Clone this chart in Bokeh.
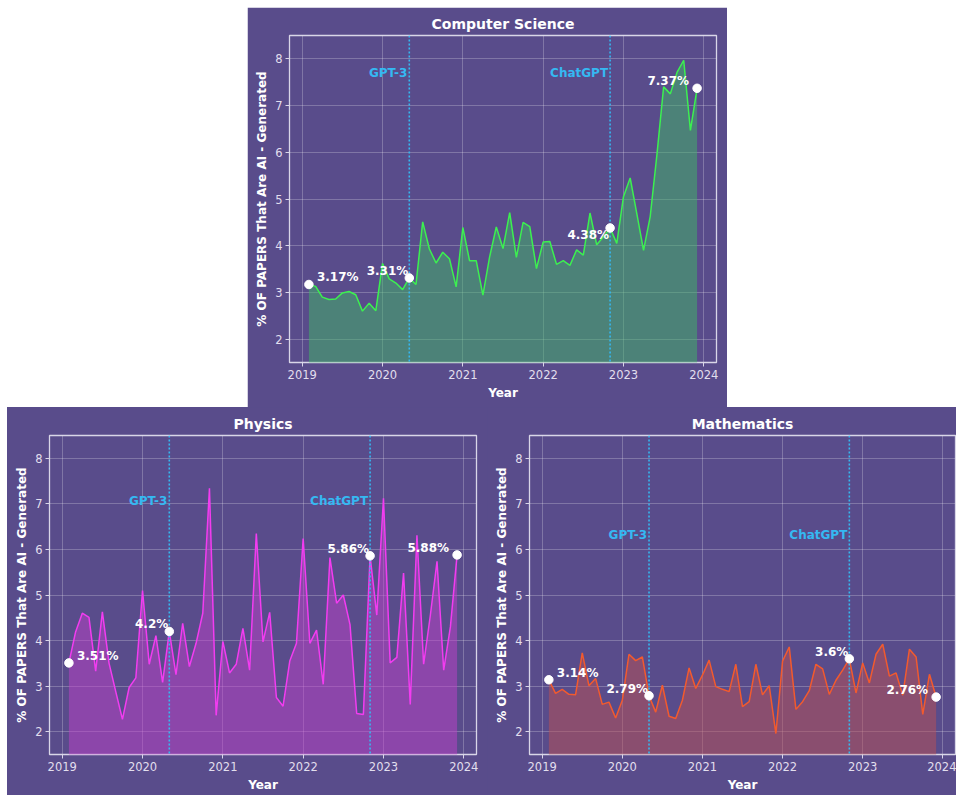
import pandas as pd
from bokeh.plotting import figure
from bokeh.models import Range1d, FixedTicker, Span, Label, Spacer
from bokeh.layouts import column, row
from bokeh.embed import file_html
from bokeh.resources import INLINE

# ---------------- data ----------------
months = pd.date_range("2019-02-01", "2023-12-01", freq="MS")

cs_values = [3.17, 3.13, 2.90, 2.85, 2.86, 2.99, 3.02, 2.95, 2.60, 2.77, 2.61, 3.62,
             3.29, 3.20, 3.06, 3.31, 3.17, 4.51, 3.93, 3.63, 3.86, 3.72, 3.12, 4.39,
             3.68, 3.68, 2.94, 3.76, 4.40, 3.94, 4.71, 3.75, 4.50, 4.41, 3.51, 4.08,
             4.09, 3.60, 3.68, 3.58, 3.91, 3.80, 4.70, 4.02, 4.19, 4.38, 4.05, 5.05,
             5.45, 4.68, 3.90, 4.63, 5.95, 7.40, 7.25, 7.71, 7.97, 6.47, 7.37]

physics_values = [3.51, 4.19, 4.60, 4.51, 3.33, 4.63, 3.50, 2.88, 2.27, 2.97, 3.18, 5.10,
                  3.48, 4.11, 3.08, 4.20, 3.25, 4.38, 3.43, 3.94, 4.60, 7.34, 2.36, 3.98,
                  3.29, 3.48, 4.27, 3.35, 6.35, 3.97, 4.62, 2.75, 2.56, 3.55, 3.94, 6.24,
                  3.94, 4.23, 3.04, 5.82, 4.82, 5.00, 4.35, 2.40, 2.38, 5.86, 4.56, 7.12,
                  3.51, 3.63, 5.48, 2.60, 6.31, 3.48, 4.55, 5.74, 3.35, 4.30, 5.88]

math_values = [3.14, 2.84, 2.93, 2.82, 2.81, 3.73, 3.01, 3.17, 2.60, 2.65, 2.30, 2.69,
               3.70, 3.56, 3.64, 2.79, 2.43, 3.02, 2.34, 2.29, 2.69, 3.40, 2.95, 3.24,
               3.57, 2.99, 2.93, 2.88, 3.48, 2.55, 2.66, 3.48, 2.81, 3.01, 1.96, 3.55,
               3.86, 2.49, 2.66, 2.90, 3.48, 3.38, 2.82, 3.13, 3.35, 3.60, 2.85, 3.51,
               3.07, 3.70, 3.92, 3.22, 3.29, 2.80, 3.81, 3.64, 2.38, 3.26, 2.76]

event_names = ["GPT-3", "ChatGPT"]
event_dates = ["2020-05-01", "2022-11-01"]
label_dates = ["2019-02-01", "2020-05-01", "2022-11-01", "2023-12-01"]
year_ticks = [2019, 2020, 2021, 2022, 2023, 2024]
y_ticks = [2, 3, 4, 5, 6, 7, 8]

# ---------------- style ----------------
BG = "#594c8b"
SPINE = "#d9d6e8"
TICK_TXT = "#e2dfee"
EVENT = "#35b8f2"
FONT = "DejaVu Sans"


def dec_year(ts):
    ts = pd.Timestamp(ts)
    return ts.year + (ts.month - 1) / 12.0


xs = [dec_year(m) for m in months]


def panel(title, vals, line_color, fill_color, event_y, width, height,
          border_bottom, border_right, label_dy):
    p = figure(width=width, height=height, title=title,
               x_range=Range1d(2018.8417, 2024.1583), y_range=Range1d(1.5, 8.5),
               output_backend="svg", toolbar_location=None,
               min_border_left=42, min_border_right=border_right,
               min_border_top=28, min_border_bottom=border_bottom)
    p.background_fill_color = BG
    p.border_fill_color = BG
    p.outline_line_color = SPINE
    p.outline_line_width = 1.3

    p.title.text_font = FONT
    p.title.text_font_size = "14px"
    p.title.text_font_style = "bold"
    p.title.text_color = "white"
    p.title.align = "center"
    p.title.standoff = 8

    p.xaxis.ticker = FixedTicker(ticks=year_ticks)
    p.yaxis.ticker = FixedTicker(ticks=y_ticks)
    for ax in (p.xaxis, p.yaxis):
        ax.axis_line_color = None
        ax.major_tick_line_color = SPINE
        ax.major_tick_out = 4
        ax.major_tick_in = 0
        ax.minor_tick_line_color = None
        ax.major_label_text_font = FONT
        ax.major_label_text_font_size = "11.5px"
        ax.major_label_text_color = TICK_TXT
        ax.major_label_standoff = 3
        ax.axis_label_text_font = FONT
        ax.axis_label_text_font_size = "12px"
        ax.axis_label_text_font_style = "bold"
        ax.axis_label_text_color = "white"
    p.xaxis.axis_label = "Year"
    p.xaxis.axis_label_standoff = 4
    p.yaxis.axis_label = "% OF PAPERS That Are AI - Generated"
    p.yaxis.axis_label_standoff = 3

    p.grid.grid_line_color = "white"
    p.grid.grid_line_alpha = 0.24
    p.grid.grid_line_width = 1

    p.varea(x=xs, y1=[0] * len(vals), y2=vals, fill_color=fill_color, fill_alpha=0.5)
    p.line(xs, vals, line_color=line_color, line_width=1.5)

    for name, d in zip(event_names, event_dates):
        xe = dec_year(d)
        p.add_layout(Span(location=xe, dimension="height", line_color=EVENT,
                          line_dash="2 2", line_width=1.6))
        p.add_layout(Label(x=xe, y=event_y, text=name, x_offset=-2,
                           text_align="right", text_baseline="middle",
                           text_font=FONT, text_font_size="12px",
                           text_font_style="bold", text_color=EVENT))

    lx = [dec_year(d) for d in label_dates]
    ly = [vals[xs.index(x)] for x in lx]
    p.scatter(lx, ly, size=8.5, fill_color="white", line_color="white", level="overlay")
    dxs = [8, -1, -1, -8]
    aligns = ["left", "right", "right", "right"]
    for x, y, dx, dy, al in zip(lx, ly, dxs, label_dy, aligns):
        p.add_layout(Label(x=x, y=y, text=f"{round(y, 2)}%", x_offset=dx, y_offset=dy,
                           text_align=al, text_baseline="middle",
                           text_font=FONT, text_font_size="12px",
                           text_font_style="bold", text_color="white"))
    return p


cs = panel("Computer Science", cs_values, "#3cf050", "#40b866", 7.69,
           480, 400, 45, 11, [7, 7, -7, 7])
ph = panel("Physics", physics_values, "#f23cf0", "#c040ca", 7.07,
           480, 388, 41, 11, [7, 7, 7, 7])
ma = panel("Mathematics", math_values, "#f25a2e", "#bc5054", 6.32,
           469, 388, 41, 1, [7, 7, 7, 7])

bottom = row(ph, ma, spacing=0, styles={"background-color": BG})
layout = column(Spacer(width=10, height=7),
                row(Spacer(width=247, height=400), cs),
                row(Spacer(width=7, height=388), bottom),
                spacing=0)

open("out.html", "w").write(file_html(layout, INLINE))
